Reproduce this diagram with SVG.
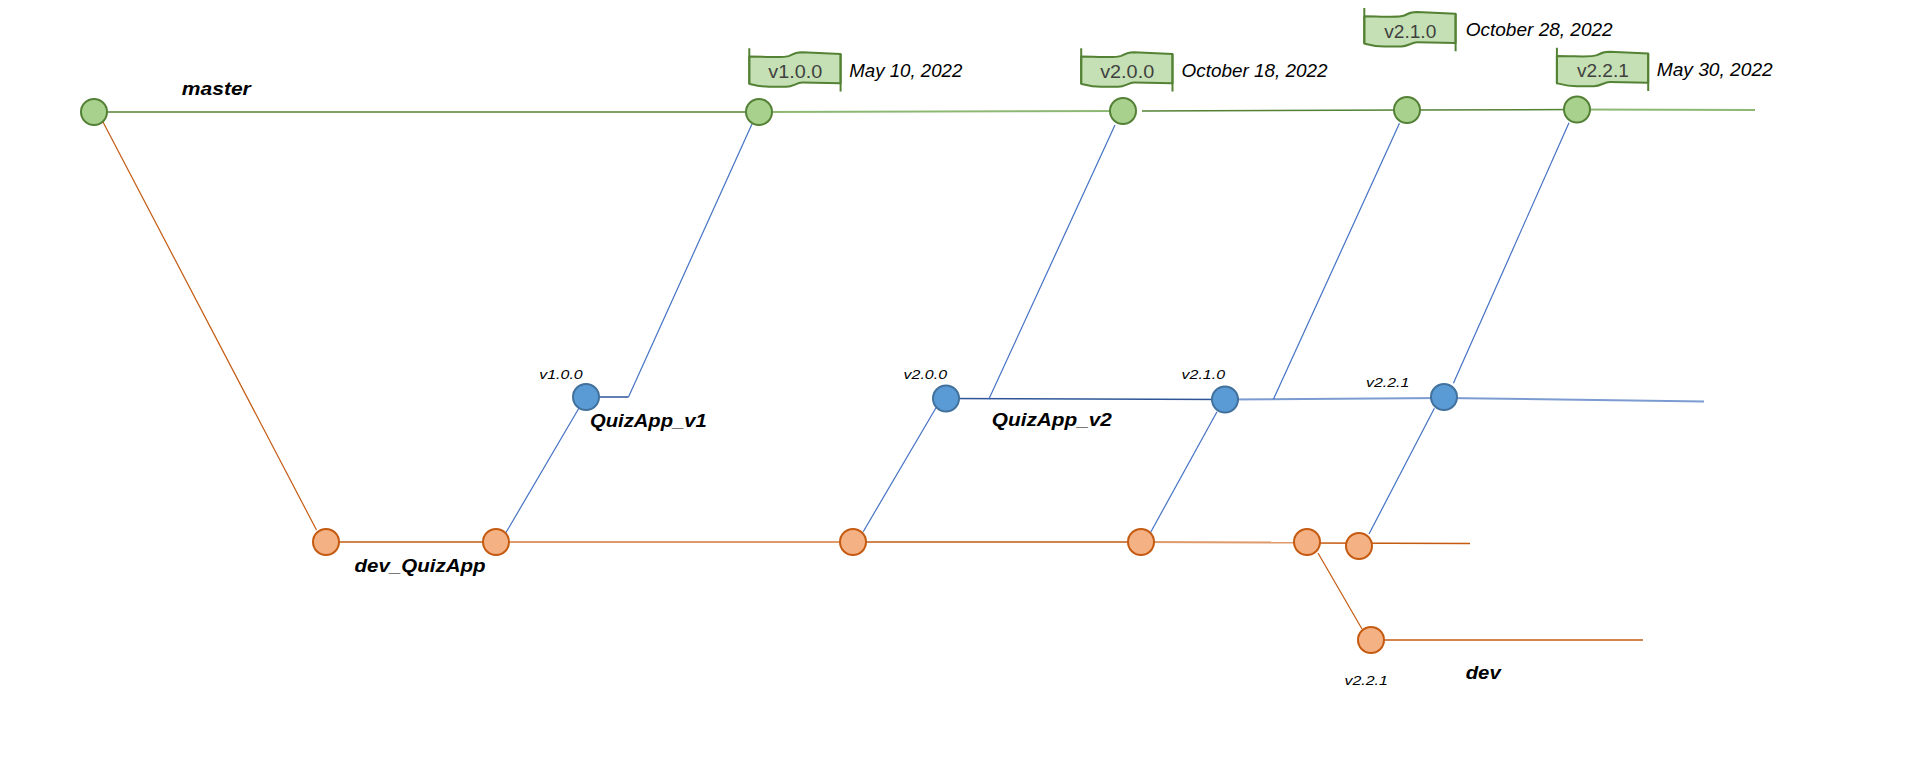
<svg xmlns="http://www.w3.org/2000/svg" width="1915" height="774" viewBox="0 0 1915 774">
<defs>
<style>
.g{fill:#A9D18E;stroke:#538135;stroke-width:2}
.b{fill:#5B9BD5;stroke:#41719C;stroke-width:2}
.o{fill:#F4B183;stroke:#C55A11;stroke-width:2}
.lg{stroke:#548235;stroke-width:1.5;fill:none}
.lgf{stroke:#8DB873;stroke-width:2;fill:none}
.lb{stroke:#4472C4;stroke-width:1.2;fill:none}
.lbh{stroke:#2F5597;stroke-width:1.5;fill:none}
.lbf{stroke:#7C9BD0;stroke-width:2;fill:none}
.lo{stroke:#C55A11;stroke-width:1.2;fill:none}
.loh{stroke:#C55A11;stroke-width:1.6;fill:none}
.lof{stroke:#DE9A6A;stroke-width:2;fill:none}
.flag{fill:#C5E0B4;stroke:#548235;stroke-width:2;stroke-linejoin:round}
.pole{fill:none;stroke:#548235;stroke-width:2}
.ft{font-family:"Liberation Sans",Arial,sans-serif;font-size:18px;fill:#404040;text-anchor:middle}
.dt{font-family:"Liberation Sans",Arial,sans-serif;font-size:18px;font-style:italic;fill:#000}
.sm{font-family:"Liberation Sans",Arial,sans-serif;font-size:13.5px;font-style:italic;fill:#000}
.bl{font-family:"Liberation Sans",Arial,sans-serif;font-size:19px;font-style:italic;font-weight:bold;fill:#000}
</style>
<g id="flagshape">
<path class="flag" d="M0,8.3 C20,8.3 34,10 40,7.5 C45,5 47,4 53,4 L91.3,5.7 L91.3,35 L53,34.3 C47,34.3 44,38.5 37,38.5 L20,38.5 C10,38.5 4,36.5 0,35.5 Z"/>
<path class="pole" d="M0,0 L0,35.7 M91.3,5.7 L91.3,43.3"/>
</g>
</defs>
<rect width="1915" height="774" fill="#fff"/>

<g id="connectors">
<line class="lg" x1="94" y1="112" x2="759" y2="112"/>
<line class="lgf" x1="759" y1="112" x2="1123" y2="111"/>
<line class="lg" x1="1142" y1="111" x2="1407" y2="110"/>
<line class="lg" x1="1407" y1="110" x2="1577" y2="109.5"/>
<line class="lgf" x1="1577" y1="109.5" x2="1755" y2="110"/>
<line class="lo" x1="103" y1="122" x2="316.5" y2="530"/>
<line class="loh" x1="326" y1="542" x2="496" y2="542"/>
<line class="lof" x1="496" y1="542" x2="853" y2="542"/>
<line class="loh" x1="853" y1="542" x2="1141" y2="542"/>
<line class="lof" x1="1141" y1="542" x2="1307" y2="542.5"/>
<line class="loh" x1="1307" y1="543" x2="1470" y2="543.5"/>
<line class="lo" x1="1318" y1="553" x2="1362" y2="629"/>
<line class="loh" x1="1371" y1="640" x2="1643" y2="640"/>
<line class="lbh" x1="586" y1="397" x2="628.5" y2="397"/>
<line class="lb" x1="628.5" y1="397" x2="752" y2="124"/>
<line class="lb" x1="579" y1="408" x2="505.7" y2="533"/>
<line class="lbh" x1="946" y1="398.5" x2="1225" y2="399.5"/>
<line class="lbf" x1="1225" y1="399.5" x2="1444" y2="398"/>
<line class="lbf" x1="1444" y1="398" x2="1704" y2="401.5"/>
<line class="lb" x1="988.8" y1="399.3" x2="1115" y2="125"/>
<line class="lb" x1="1273.4" y1="399.3" x2="1399.5" y2="123.3"/>
<line class="lb" x1="1453.4" y1="383.3" x2="1569" y2="122.7"/>
<line class="lb" x1="936.6" y1="406.7" x2="863.2" y2="531.7"/>
<line class="lb" x1="1217" y1="411.7" x2="1150.4" y2="532.7"/>
<line class="lb" x1="1434.4" y1="408.3" x2="1369" y2="534"/>
</g>

<g id="master-nodes">
<circle id="m0" class="g" cx="94" cy="112" r="13"/>
<circle id="m1" class="g" cx="759" cy="112" r="13"/>
<circle id="m2" class="g" cx="1123" cy="111" r="13"/>
<circle id="m3" class="g" cx="1407" cy="110" r="13"/>
<circle id="m4" class="g" cx="1577" cy="109.5" r="13"/>
</g>
<g id="blue-nodes">
<circle id="b1" class="b" cx="586" cy="397" r="13"/>
<circle id="b2" class="b" cx="946" cy="398.5" r="13"/>
<circle id="b3" class="b" cx="1225" cy="399.5" r="13"/>
<circle id="b4" class="b" cx="1444" cy="397" r="13"/>
</g>
<g id="orange-nodes">
<circle id="o0" class="o" cx="326" cy="542" r="13"/>
<circle id="o1" class="o" cx="496" cy="542" r="13"/>
<circle id="o2" class="o" cx="853" cy="542" r="13"/>
<circle id="o3" class="o" cx="1141" cy="542" r="13"/>
<circle id="o4" class="o" cx="1307" cy="542" r="13"/>
<circle id="o5" class="o" cx="1359" cy="546" r="13"/>
<circle id="o6" class="o" cx="1371" cy="640" r="13"/>
</g>

<g id="tag-v100">
<use href="#flagshape" x="749.3" y="48.3"/>
<text class="ft" x="795.3" y="77.8" textLength="54" lengthAdjust="spacingAndGlyphs">v1.0.0</text>
<text class="dt" x="849.3" y="76.7" textLength="113" lengthAdjust="spacingAndGlyphs">May 10, 2022</text>
</g>
<g id="tag-v200">
<use href="#flagshape" x="1081.2" y="48.3"/>
<text class="ft" x="1127.2" y="77.8" textLength="54" lengthAdjust="spacingAndGlyphs">v2.0.0</text>
<text class="dt" x="1181.6" y="76.7" textLength="146" lengthAdjust="spacingAndGlyphs">October 18, 2022</text>
</g>
<g id="tag-v210">
<use href="#flagshape" x="1364.3" y="8"/>
<text class="ft" x="1410.3" y="37.5" textLength="52" lengthAdjust="spacingAndGlyphs">v2.1.0</text>
<text class="dt" x="1465.7" y="36" textLength="147" lengthAdjust="spacingAndGlyphs">October 28, 2022</text>
</g>
<g id="tag-v221">
<use href="#flagshape" x="1556.9" y="47.7"/>
<text class="ft" x="1602.9" y="77.2" textLength="52" lengthAdjust="spacingAndGlyphs">v2.2.1</text>
<text class="dt" x="1656.7" y="76" textLength="116" lengthAdjust="spacingAndGlyphs">May 30, 2022</text>
</g>

<g id="labels">
<text class="bl" x="181.8" y="95" textLength="69" lengthAdjust="spacingAndGlyphs">master</text>
<text class="bl" x="590" y="426.7" textLength="116.7" lengthAdjust="spacingAndGlyphs">QuizApp_v1</text>
<text class="bl" x="991.8" y="426" textLength="120" lengthAdjust="spacingAndGlyphs">QuizApp_v2</text>
<text class="bl" x="354.5" y="571.7" textLength="131" lengthAdjust="spacingAndGlyphs">dev_QuizApp</text>
<text class="bl" x="1465.7" y="679.3" textLength="35" lengthAdjust="spacingAndGlyphs">dev</text>
<text class="sm" x="539.3" y="379.3" textLength="43.4" lengthAdjust="spacingAndGlyphs">v1.0.0</text>
<text class="sm" x="903.6" y="379.3" textLength="43.4" lengthAdjust="spacingAndGlyphs">v2.0.0</text>
<text class="sm" x="1181.6" y="379.3" textLength="43.4" lengthAdjust="spacingAndGlyphs">v2.1.0</text>
<text class="sm" x="1366" y="386.7" textLength="43.4" lengthAdjust="spacingAndGlyphs">v2.2.1</text>
<text class="sm" x="1344.5" y="685" textLength="43.4" lengthAdjust="spacingAndGlyphs">v2.2.1</text>
</g>
</svg>
